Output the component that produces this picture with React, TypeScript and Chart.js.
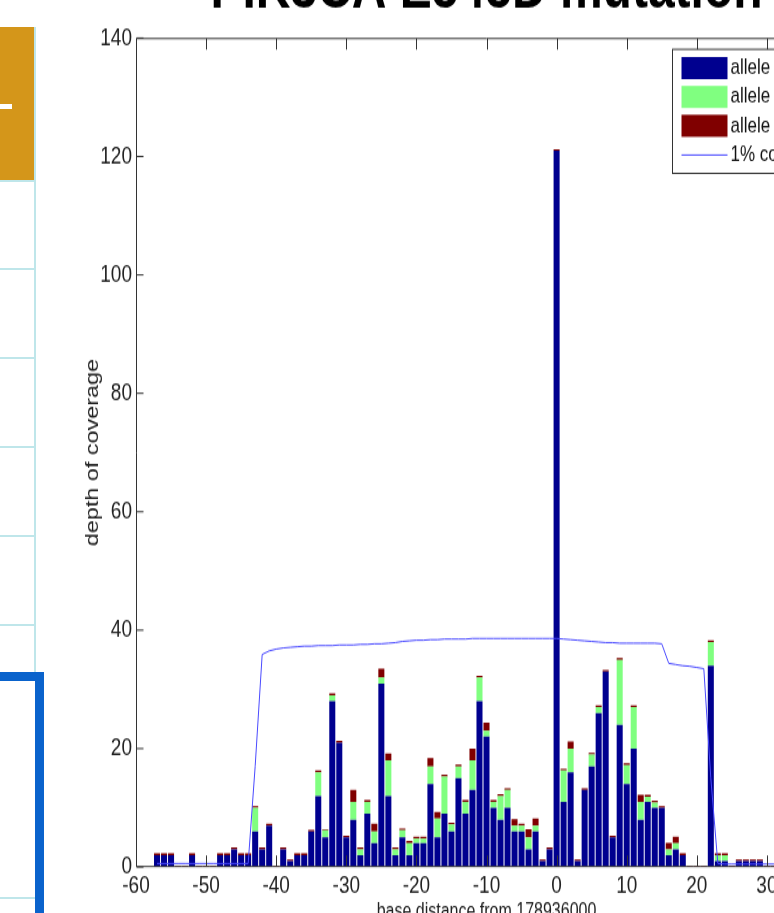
import React, { useEffect, useRef } from "react";
import { Chart, registerables } from "chart.js";

Chart.register(...registerables);

// ---------- data ----------
const titleText = "PIK3CA E545D mutation";
const xTitle = "base distance from 178936000";
const yTitle = "depth of coverage";
const legendLabels = ["allele 1", "allele 2", "allele 3", "1% coverage"];

const positions = [
  -57, -56, -55, -54, -53, -52, -51, -50, -49, -48, -47, -46, -45, -44, -43, -42, -41, -40, -39, -38,
  -37, -36, -35, -34, -33, -32, -31, -30, -29, -28, -27, -26, -25, -24, -23, -22, -21, -20, -19, -18,
  -17, -16, -15, -14, -13, -12, -11, -10, -9, -8, -7, -6, -5, -4, -3, -2, -1, 0, 1, 2,
  3, 4, 5, 6, 7, 8, 9, 10, 11, 12, 13, 14, 15, 16, 17, 18, 19, 20, 21, 22,
  23, 24, 25, 26, 27, 28, 29, 30, 31, 32, 33, 34, 35, 36, 37, 38, 39,
];

const allele1 = [
  2, 2, 2, 0, 0, 2, 0, 0, 0, 2, 2, 3, 2, 2, 6, 3, 7, 0, 3, 1,
  2, 2, 6, 12, 5, 28, 21, 5, 8, 2, 9, 4, 31, 12, 2, 5, 2, 4, 4, 14,
  5, 9, 6, 15, 9, 13, 28, 22, 10, 8, 10, 6, 6, 3, 6, 1, 3, 121, 11, 16,
  1, 13, 17, 26, 33, 5, 24, 14, 20, 8, 11, 10, 10, 2, 3, 2, 0, 0, 0, 34,
  1, 1, 0, 1, 1, 1, 1, 0, 0, 0, 0, 0, 0, 0, 0, 0, 0,
];

const allele2 = [
  0, 0, 0, 0, 0, 0, 0, 0, 0, 0, 0, 0, 0, 0, 4, 0, 0, 0, 0, 0,
  0, 0, 0, 4, 1.2, 1, 0, 0, 3, 1, 2, 2, 1, 6, 1, 1.2, 2, 0.8, 0.8, 3,
  3.2, 6.3, 1.2, 2, 2, 5, 4, 1, 1, 4, 3, 1, 1, 2, 1, 0, 0, 0, 5.3, 4,
  0, 0, 2, 1, 0, 0, 11, 3.2, 7, 3, 0.9, 0.9, 0, 1, 1, 0, 0, 0, 0, 4,
  1, 1, 0, 0, 0, 0, 0, 0, 0, 0, 0, 0, 0, 0, 0, 0, 0,
];

const allele3 = [
  0.3, 0.3, 0.3, 0.2, 0.2, 0.3, 0.2, 0.2, 0.2, 0.3, 0.3, 0.3, 0.3, 0.3, 0.3, 0.3, 0.3, 0.2, 0.3, 0.3,
  0.3, 0.3, 0.3, 0.3, 0.2, 0.3, 0.3, 0.3, 2, 0.3, 0.3, 1.3, 1.5, 1.2, 0.3, 0.3, 0.4, 0.3, 0.3, 1.4,
  1.1, 0.3, 0.3, 0.3, 0.3, 2, 0.3, 1.4, 0.3, 0.3, 0.3, 1.1, 0.3, 1.4, 1.2, 0.3, 0.3, 0.2, 0.3, 1.2,
  0.3, 0.3, 0.3, 0.3, 0.3, 0.3, 0.3, 0.3, 0.3, 1.2, 0.3, 0.3, 0.3, 1.1, 1.1, 0.3, 0.2, 0.2, 0.2, 0.3,
  0.3, 0.3, 0.2, 0.3, 0.3, 0.3, 0.3, 0.2, 0.2, 0.2, 0.2, 0.2, 0.2, 0.2, 0.2, 0.2, 0.2,
];

const coverage1pct = [
  0.6, 0.6, 0.6, 0.6, 0.6, 0.6, 0.6, 0.6, 0.6, 0.6, 0.6, 0.6, 0.6, 0.6, 17, 35.9, 36.5, 36.8, 37.0, 37.1,
  37.2, 37.3, 37.3, 37.4, 37.4, 37.4, 37.5, 37.5, 37.5, 37.6, 37.6, 37.7, 37.7, 37.8, 37.9, 38.1, 38.2, 38.3, 38.3, 38.4,
  38.4, 38.5, 38.5, 38.5, 38.5, 38.6, 38.6, 38.6, 38.6, 38.6, 38.6, 38.6, 38.6, 38.6, 38.6, 38.6, 38.6, 38.6, 38.5, 38.4,
  38.3, 38.2, 38.1, 38.0, 37.9, 37.9, 37.8, 37.8, 37.8, 37.8, 37.8, 37.8, 37.7, 34.4, 34.2, 34.0, 33.9, 33.7, 33.5, 15,
  0.6, 0.5, 0.5, 0.5, 0.5, 0.5, 0.5, 0.5, 0.5, 0.5, 0.5, 0.5, 0.5, 0.5, 0.5, 0.5, 0.5,
];

const xMin = -60;
const xMax = 40;
const xStep = 10;
const yMin = 0;
const yMax = 140;
const yStep = 20;

// ---------- styles ----------
const BLUE = "#00008f";
const GREEN = "#80ff80";
const RED = "#800000";
const LINE = "#4a4aff";
const AXIS = "#333333";
const SANS = "'Liberation Sans', Arial, Helvetica, sans-serif";
const STRETCH = 1.3; // the reference figure is stretched vertically
const CANVAS_W = 900;
const CANVAS_H = 749;

const toPts = (vals: number[]) => positions.map((p, i) => ({ x: p, y: vals[i] }));

const framePlugin = {
  id: "matlabFrame",
  afterDatasetsDraw(chart: any) {
    const { ctx, chartArea: a, scales } = chart;
    const xs = scales.x;
    const ys = scales.y;
    ctx.save();
    ctx.strokeStyle = AXIS;
    ctx.lineWidth = 1;
    ctx.beginPath();
    const L = Math.round(a.left) + 0.5;
    const R = Math.round(a.right) - 0.5;
    const T = a.top + 0.4;
    const B = a.bottom - 0.4;
    ctx.moveTo(L, T);
    ctx.lineTo(R, T);
    ctx.lineTo(R, B);
    ctx.lineTo(L, B);
    ctx.closePath();
    xs.ticks.forEach((t: any) => {
      const px = Math.round(xs.getPixelForValue(t.value)) + 0.5;
      ctx.moveTo(px, B);
      ctx.lineTo(px, B - 8.5);
      ctx.moveTo(px, T);
      ctx.lineTo(px, T + 8.5);
    });
    ys.ticks.forEach((t: any) => {
      const py = ys.getPixelForValue(t.value);
      ctx.moveTo(L, py);
      ctx.lineTo(L + 7, py);
      ctx.moveTo(R, py);
      ctx.lineTo(R - 7, py);
    });
    ctx.stroke();
    ctx.restore();
  },
  afterDraw(chart: any) {
    const { ctx, chartArea: a } = chart;
    const left = Math.round(a.right) - 165 + 0.5;
    const top = a.top + 8.7;
    const w = 160;
    const h = 95.4;
    ctx.save();
    ctx.fillStyle = "#ffffff";
    ctx.fillRect(left, top, w, h);
    ctx.strokeStyle = AXIS;
    ctx.lineWidth = 1;
    ctx.strokeRect(left, top, w, h);
    ctx.font = `17px ${SANS}`;
    ctx.textBaseline = "middle";
    const ds = chart.data.datasets;
    legendLabels.forEach((lab: string, i: number) => {
      const d = ds.find((q: any) => q.label === lab);
      if (d.type === "line") {
        const cy = top + 81.3;
        ctx.strokeStyle = d.borderColor;
        ctx.beginPath();
        ctx.moveTo(left + 9, cy);
        ctx.lineTo(left + 55, cy);
        ctx.stroke();
        ctx.fillStyle = "#111";
        ctx.fillText(lab, left + 58, cy);
      } else {
        const cy = top + 14.4 + i * 22.2;
        ctx.fillStyle = d.backgroundColor;
        ctx.fillRect(left + 9, cy - 8.5, 46, 17);
        ctx.fillStyle = "#111";
        ctx.fillText(lab, left + 58, cy);
      }
    });
    ctx.restore();
  },
};

function ChartView() {
  const ref = useRef<HTMLCanvasElement | null>(null);
  useEffect(() => {
    if (!ref.current) return;
    const chart = new Chart(ref.current, {
      type: "bar",
      data: {
        datasets: [
          {
            type: "line",
            label: legendLabels[3],
            data: toPts(coverage1pct),
            borderColor: LINE,
            backgroundColor: LINE,
            borderWidth: 1,
            pointRadius: 0,
            fill: false,
            tension: 0,
            stack: "coverage",
          } as any,
          {
            label: legendLabels[0],
            data: toPts(allele1),
            backgroundColor: BLUE,
            borderWidth: 0,
            stack: "alleles",
          },
          {
            label: legendLabels[1],
            data: toPts(allele2),
            backgroundColor: GREEN,
            borderWidth: 0,
            stack: "alleles",
          },
          {
            label: legendLabels[2],
            data: toPts(allele3),
            backgroundColor: RED,
            borderWidth: 0,
            stack: "alleles",
          },
        ],
      },
      options: {
        responsive: false,
        maintainAspectRatio: false,
        animation: false,
        devicePixelRatio: 1,
        datasets: { bar: { barPercentage: 0.86, categoryPercentage: 1 } } as any,
        layout: { padding: { left: 80, right: 63, top: 0, bottom: 0 }, autoPadding: false } as any,
        plugins: {
          legend: { display: false },
          tooltip: { enabled: false },
          title: {
            display: true,
            text: titleText,
            fullSize: false,
            color: "#000",
            font: { family: SANS, size: 48, weight: "bold" },
            padding: { top: 0, bottom: 7.8 },
          },
        },
        scales: {
          x: {
            type: "linear",
            min: xMin,
            max: xMax,
            stacked: true,
            offset: false,
            grid: { display: false, drawTicks: false, offset: false },
            border: { display: false },
            ticks: {
              stepSize: xStep,
              autoSkip: false,
              maxRotation: 0,
              padding: 3,
              color: "#222",
              font: { family: SANS, size: 19 },
              callback: (v: any) => String(v),
            },
            title: {
              display: true,
              text: xTitle,
              color: "#222",
              font: { family: SANS, size: 16 },
              padding: { top: 0, bottom: 1.7 },
            },
            afterFit: (s: any) => {
              s.height = CANVAS_H - 703.08;
            },
          } as any,
          y: {
            type: "linear",
            min: yMin,
            max: yMax,
            stacked: true,
            grid: { display: false, drawTicks: false },
            border: { display: false },
            ticks: {
              stepSize: yStep,
              padding: 4,
              color: "#222",
              font: { family: SANS, size: 19 },
            },
            title: {
              display: true,
              text: yTitle,
              color: "#222",
              font: { family: SANS, size: 18 },
              padding: { top: 1.8, bottom: 0 },
            },
            afterFit: (s: any) => {
              s.width = 56;
            },
          } as any,
        },
      },
      plugins: [framePlugin],
    });
    return () => chart.destroy();
  }, []);
  return (
    <div
      style={{
        position: "absolute",
        left: 0,
        top: -47,
        width: CANVAS_W,
        height: CANVAS_H,
        transform: `scaleY(${STRETCH})`,
        transformOrigin: "0 0",
      }}
    >
      <canvas ref={ref} width={CANVAS_W} height={CANVAS_H} style={{ width: CANVAS_W, height: CANVAS_H, display: "block" }} />
    </div>
  );
}

export default function App() {
  const rowLines = [180, 268, 357, 446, 535, 624, 897];
  return (
    <div
      style={{
        position: "fixed",
        left: 0,
        top: 0,
        width: 774,
        height: 913,
        overflow: "hidden",
        background: "#ffffff",
      }}
    >
      <ChartView />
      {/* fragment of a slide table on the left */}
      <div style={{ position: "absolute", left: 0, top: 27, width: 34, height: 153, background: "#d4961a" }} />
      <div style={{ position: "absolute", left: 0, top: 104, width: 12, height: 5, background: "#ffffff" }} />
      <div style={{ position: "absolute", left: 34, top: 27, width: 2, height: 645, background: "#bfe6ea" }} />
      {rowLines.map((y) => (
        <div key={y} style={{ position: "absolute", left: 0, top: y, width: 35, height: 2, background: "#bfe6ea" }} />
      ))}
      <div
        style={{
          position: "absolute",
          left: -9,
          top: 672,
          width: 53,
          height: 260,
          boxSizing: "border-box",
          border: "9px solid #0a63cc",
          background: "transparent",
        }}
      />
    </div>
  );
}
